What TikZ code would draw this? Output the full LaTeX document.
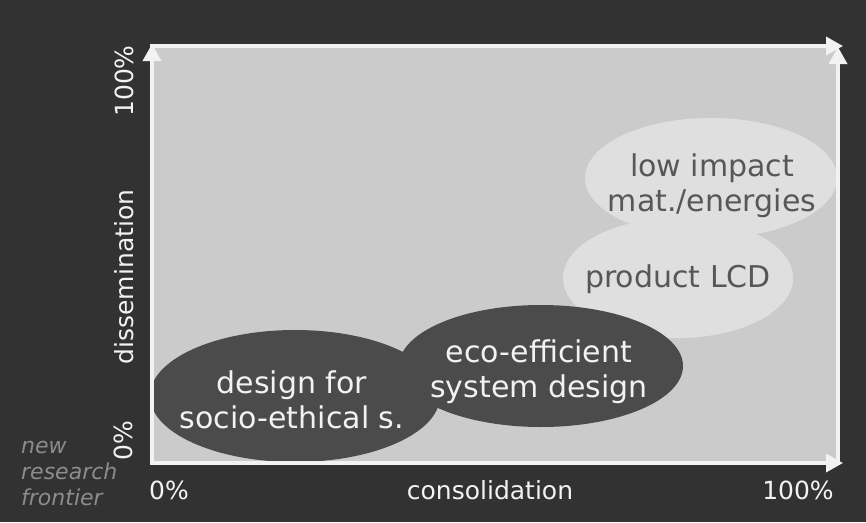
\documentclass[tikz,border=0pt]{standalone}
\usepackage{fontspec}
\setmainfont{DejaVu Sans}
\usetikzlibrary{arrows.meta,shapes.geometric}
\definecolor{bgdark}{HTML}{323232}
\definecolor{plotgray}{HTML}{CBCBCB}
\definecolor{lightell}{HTML}{DFDFDF}
\definecolor{darkell}{HTML}{4B4B4B}
\definecolor{axiswhite}{HTML}{F2F2F2}
\definecolor{lighttext}{HTML}{575757}
\definecolor{darktext}{HTML}{F2F2F2}
\definecolor{frontier}{HTML}{8C8C8C}
\tikzset{
  lightblob/.style={ellipse, fill=lightell, inner sep=0pt},
  darkblob/.style={ellipse, fill=darkell, inner sep=0pt},
  blobtext/.style={align=center, inner sep=0pt, font=\fontsize{30}{35.5}\selectfont},
  axisline/.style={draw=axiswhite, line width=3.5pt, -{Triangle[length=17pt,width=18pt]}},
  axislabel/.style={text=axiswhite, font=\fontsize{25}{29}\selectfont, inner sep=0pt}
}
\begin{document}
\begin{tikzpicture}[x=1pt,y=-1pt]
\fill[bgdark] (0,0) rectangle (866,522);
\useasboundingbox (0,0) rectangle (866,522);
\fill[plotgray] (152,46) rectangle (838,463);

% ellipses
\node[lightblob, minimum width=230pt, minimum height=120pt] (lcd) at (678,278) {};
\node[lightblob, minimum width=252pt, minimum height=120pt] (low) at (711,178) {};
\node[darkblob, minimum width=290pt, minimum height=132pt] (soc) at (295,396) {};
\node[darkblob, minimum width=284pt, minimum height=122pt] (eco) at (541,366) {};

% ellipse texts
\node[blobtext, text=lighttext] (lcdtext) at (678,279) {product LCD};
\node[blobtext, text=lighttext] (lowtext) at (712,185.5) {low impact\\mat./energies};
\node[blobtext, text=darktext] (soctext) at (292,400) {design for\\socio-ethical s.};
\node[blobtext, text=darktext] (ecotext) at (539,371.5) {eco-efficient\\system design};

% axes
\coordinate (o) at (152,463);
\coordinate (tlend) at (152,44);
\coordinate (tlstart) at (150,46);
\coordinate (trend) at (843,46);
\coordinate (br) at (838,463);
\coordinate (brend) at (843,463);
\coordinate (rtop) at (838,47);
\coordinate (ol) at (150,463);
\draw[axisline] (o) -- (tlend);
\draw[axisline] (ol) -- (brend);
\draw[axisline] (tlstart) -- (trend);
\draw[axisline] (br) -- (rtop);

% axis labels
\node[axislabel, rotate=90] (y100) at (124,81) {100\%};
\node[axislabel, rotate=90] (ydis) at (124,277) {dissemination};
\node[axislabel, rotate=90] (y0) at (123,441) {0\%};
\node[axislabel] (x0) at (169,490) {0\%};
\node[axislabel] (xcon) at (490,490) {consolidation};
\node[axislabel] (x100) at (798,490) {100\%};

\node[text=frontier, font=\fontsize{22}{26}\selectfont\itshape, align=left, anchor=west, inner sep=0pt] (nrf) at (21,473) {new\\research\\frontier};
\end{tikzpicture}
\end{document}
